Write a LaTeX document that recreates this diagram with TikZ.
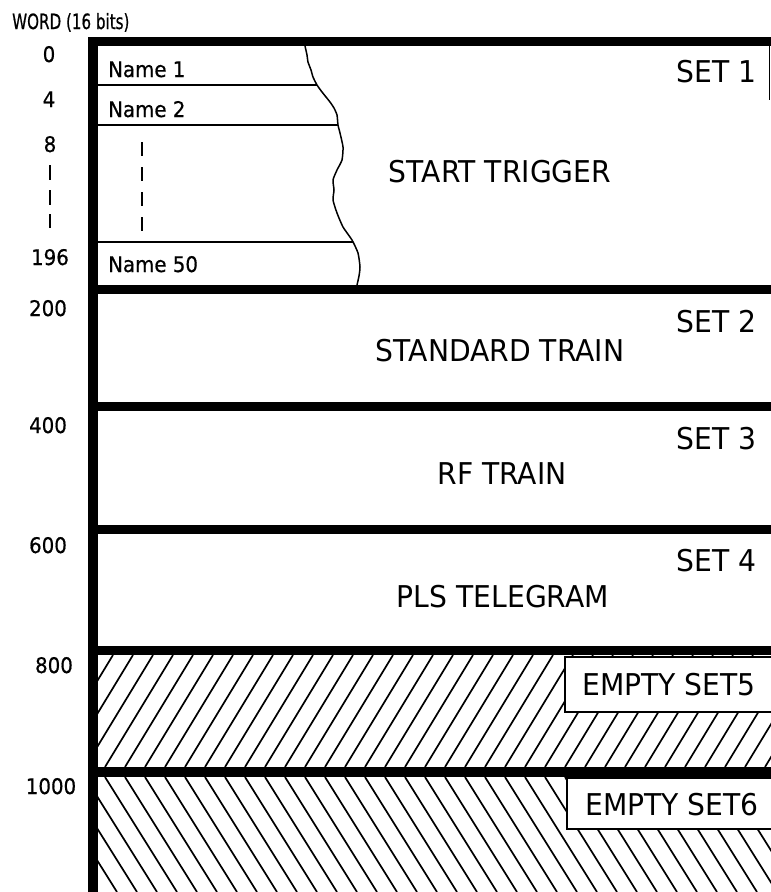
\documentclass[tikz,border=0pt]{standalone}
\usepackage{fontspec}
\newfontfamily\labfont[FakeStretch=0.94]{DejaVu Sans}
\newfontfamily\smallfont[FakeStretch=0.92,FakeBold=0.6]{DejaVu Sans}
\newfontfamily\narrowfont[FakeStretch=0.72,FakeBold=0.6]{DejaVu Sans}
\begin{document}
\begin{tikzpicture}[x=1pt,y=-1pt,
  big/.style={font=\labfont\fontsize{30}{30}\selectfont, inner sep=0pt},
  small/.style={font=\smallfont\fontsize{21.5}{21.5}\selectfont, inner sep=0pt},
  wordsty/.style={font=\narrowfont\fontsize{21}{21}\selectfont, inner sep=0pt},
  bar/.style={fill=black, draw=none},
  thinrule/.style={line width=1.8pt},
  hatch/.style={line width=1.7pt},
  labelbox/.style={draw, line width=1.5pt, fill=white},
  tick/.style={line width=2.2pt}]
\useasboundingbox (0,0) rectangle (771,892);
\fill[white] (0,0) rectangle (771,892);

% hatching of set 5
\begin{scope}
  \clip (98,655) rectangle (771,767);
  \foreach \i in {0,...,40} { \draw[hatch] ({25+20*\i},767) -- ++(68,-112); }
\end{scope}
% hatching of set 6
\begin{scope}
  \clip (98,777) rectangle (771,892);
  \foreach \i in {0,...,40} { \draw[hatch] ({25+20*\i},777) -- ++(72,115); }
\end{scope}

% label boxes in empty sets
\draw[labelbox] (565,657) rectangle (776,712);
\draw[labelbox] (567,778) rectangle (776,829);

% thick bars
\fill[bar] (88,37) rectangle (771,46);
\fill[bar] (88,285) rectangle (771,294);
\fill[bar] (88,402) rectangle (771,411);
\fill[bar] (88,525) rectangle (771,534);
\fill[bar] (88,646) rectangle (771,655);
\fill[bar] (88,767) rectangle (771,777);
\fill[bar] (88,37) rectangle (98,892);
\draw[line width=1pt] (769.5,46) -- (769.5,100);

% set 1 name entries
\draw[thinrule] (98,85) -- (317,85);
\draw[thinrule] (98,125) -- (338,125);
\draw[thinrule] (98,242) -- (353,242);
\draw[line width=1.5pt] plot[smooth, tension=0.35] coordinates {
  (305,46) (307,55) (308,62) (311,70) (313,77) (317,85) (322,92) (330,102) (334,108) (337,115)
  (338,125) (340,133) (343,147) (342,160) (337,170) (333,180) (334,190) (333,200)
  (337,213) (343,227) (352,240) (358,253) (360,267) (359,276) (357,285)};
\draw[tick, dash pattern=on 14pt off 11pt] (142,142) -- (142,233);
\draw[tick] (50,165) -- (50,180);
\draw[tick] (50,190) -- (50,205);
\draw[tick] (50,214) -- (50,228);

% texts
\node[wordsty, anchor=base west] (word) at (12,29) {WORD (16 bits)};
\node[small, anchor=base] (w0) at (49,62) {0};
\node[small, anchor=base] (w4) at (49,107) {4};
\node[small, anchor=base] (w8) at (50,152) {8};
\node[small, anchor=base] (w196) at (50,265) {196};
\node[small, anchor=base] (w200) at (48,316) {200};
\node[small, anchor=base] (w400) at (48,433) {400};
\node[small, anchor=base] (w600) at (48,553) {600};
\node[small, anchor=base] (w800) at (54,673) {800};
\node[small, anchor=base] (w1000) at (51,794) {1000};

\node[small, anchor=base west] (name1) at (108,77) {Name 1};
\node[small, anchor=base west] (name2) at (108,117) {Name 2};
\node[small, anchor=base west] (name50) at (108,272) {Name 50};

\node[big, anchor=base] (start) at (500,182) {START TRIGGER};
\node[big, anchor=base] (std) at (500,361) {STANDARD TRAIN};
\node[big, anchor=base] (rf) at (502,484) {RF TRAIN};
\node[big, anchor=base] (pls) at (503,607) {PLS TELEGRAM};

\node[big, anchor=base east] (set1) at (757,82) {SET 1};
\node[big, anchor=base east] (set2) at (757,332) {SET 2};
\node[big, anchor=base east] (set3) at (757,449) {SET 3};
\node[big, anchor=base east] (set4) at (757,571) {SET 4};

\node[big, anchor=base west] (empty5) at (582,695) {EMPTY SET5};
\node[big, anchor=base west] (empty6) at (585,815) {EMPTY SET6};
\end{tikzpicture}
\end{document}
